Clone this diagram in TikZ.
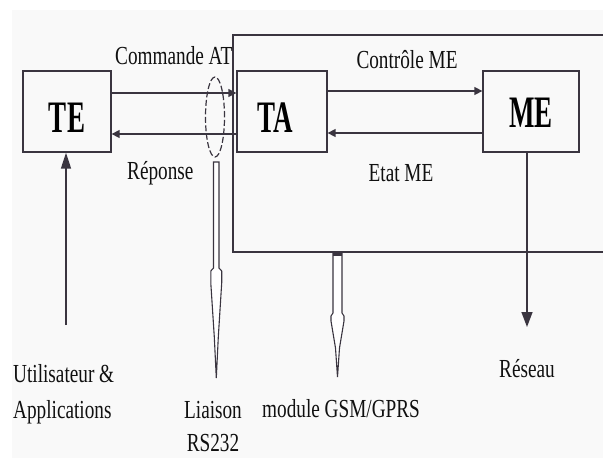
\documentclass[tikz,border=0pt]{standalone}
\usepackage{fontspec}
\setmainfont{Liberation Serif}
\usetikzlibrary{arrows.meta,shapes.geometric}
\definecolor{ink}{HTML}{3A3540}
\definecolor{txt}{HTML}{101010}
\definecolor{paper}{HTML}{F9F9F9}
% condensed text, as set in the diagram
\newcommand\narrow[1]{\scalebox{0.74}[1]{#1}}
\newcommand\tagtext[1]{\scalebox{0.6}[1]{#1}}

\begin{document}
\begin{tikzpicture}[x=1pt,y=-1pt,
  box/.style={draw=ink,line width=1.3pt,minimum height=81pt,inner sep=0pt},
  lbl/.style={inner sep=0pt,text=txt,font=\fontsize{26}{36}\selectfont},
  tag/.style={inner sep=0pt,text=black,font=\fontsize{45}{50}\selectfont\bfseries},
  flow/.style={draw=ink,line width=1.4pt,-{Triangle[length=8pt,width=8pt]}},
  bigflow/.style={draw=ink,line width=1.4pt,-{Triangle[length=15pt,width=11pt]}},
  hollow/.style={draw=ink,line width=1.1pt,fill=white,line join=miter},
]
\useasboundingbox (0,0) rectangle (603,458);
\fill[paper] (12,10) rectangle (603,458);

% GSM/GPRS module frame (open on the right)
\coordinate (frTR) at (603,35);
\coordinate (frTL) at (233,35);
\coordinate (frBL) at (233,252);
\coordinate (frBR) at (603,252);
\draw[ink,line width=2pt] (frTR) -- (frTL) -- (frBL) -- (frBR);

% equipment blocks
\node[box,minimum width=88pt] (TE) at (67,111.5) {};
\node[box,minimum width=90pt] (TA) at (282,111.5) {};
\node[box,minimum width=96pt] (ME) at (531,111.5) {};
\node[tag] (TEt) at (67,118) {\tagtext{TE}};
\node[tag] (TAt) at (275,118) {\tagtext{TA}};
\node[tag] (MEt) at (531,113) {\tagtext{ME}};

% exchanges between blocks
\draw[flow] ([yshift=18.5pt]TE.east) -- ([yshift=18.5pt]TA.west);
\draw[flow] ([yshift=-22.5pt]TA.west) -- ([yshift=-22.5pt]TE.east);
\draw[flow] ([yshift=20.5pt]TA.east) -- ([yshift=20.5pt]ME.west);
\draw[flow] ([yshift=-21.5pt]ME.west) -- ([yshift=-21.5pt]TA.east);

% serial link
\node[draw=ink,ellipse,line width=1.2pt,dash pattern=on 6pt off 2.5pt,
      minimum width=19pt,minimum height=80pt,inner sep=0pt] (link) at (215,117) {};

% user input and network output
\coordinate (userfoot) at (66,325);
\draw[draw=ink,line width=1.4pt,-{Triangle[length=16pt,width=10pt]}] (userfoot) -- (userfoot |- TE.south);
\coordinate (netfoot) at (527,327);
\draw[bigflow] (netfoot |- ME.south) -- (netfoot);

% hollow pointers
\draw[hollow] (213.5,162) -- (213.5,268) -- (210.8,271) -- (210.8,283) -- (214.3,337)
  -- (216.3,378) -- (218.3,337) -- (221.7,283) -- (221.7,271) -- (219,268) -- (219,162) -- cycle;
\draw[hollow] (333,253) -- (333,313) -- (331,316) -- (331,321) -- (335.5,348)
  -- (337.5,377) -- (339.5,348) -- (344,321) -- (344,316) -- (342,313) -- (342,253) -- cycle;
\fill[ink] (333,252) rectangle (342,256);

% labels
\node[lbl,anchor=base west] (cmd) at (115,64) {\narrow{Commande AT}};
\node[lbl,anchor=base west] (rep) at (127,179) {\narrow{Réponse}};
\node[lbl,anchor=base] (ctl) at (407,68) {\narrow{Contrôle ME}};
\node[lbl,anchor=base] (etat) at (401,181) {\narrow{Etat ME}};
\node[lbl,anchor=base west] (user) at (13,382)
  {\narrow{\begin{tabular}[t]{@{}l@{}}Utilisateur \&\\Applications\end{tabular}}};
\node[lbl,anchor=base] (rs) at (213,418)
  {\narrow{\begin{tabular}[t]{@{}c@{}}Liaison\\[-3pt]RS232\end{tabular}}};
\node[lbl,anchor=base west] (gsm) at (262,417) {\narrow{module GSM/GPRS}};
\node[lbl,anchor=base] (net) at (527,377) {\narrow{Réseau}};
\end{tikzpicture}
\end{document}
